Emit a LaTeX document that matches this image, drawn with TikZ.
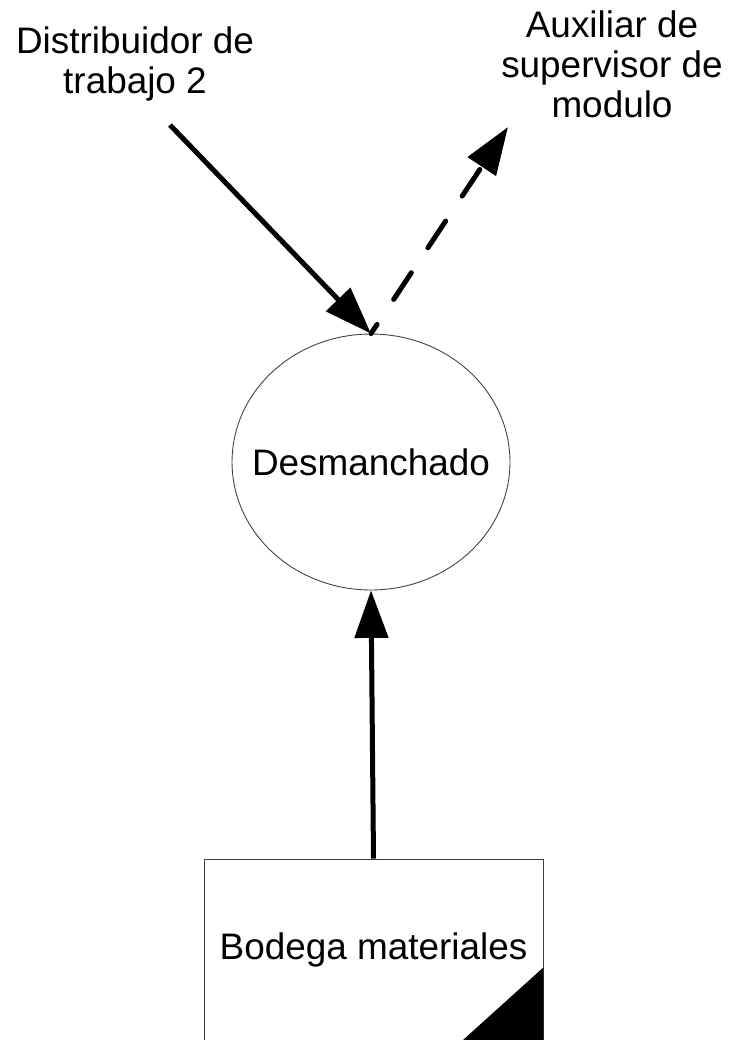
\documentclass[tikz,border=0pt]{standalone}
\usepackage{fontspec}
\setmainfont{Liberation Sans}
\usetikzlibrary{arrows.meta,shapes.geometric,calc}

\begin{document}
\begin{tikzpicture}[x=0.02cm, y=-0.02cm,
		bigtext/.style = {font=\fontsize{21}{22.7}\selectfont},
		actor/.style   = {bigtext, align=center, inner sep=0pt},
		proc/.style    = {ellipse, draw=black!75, line width=0.5pt, minimum width=5.56cm, minimum height=5.12cm, inner sep=0pt},
		store/.style   = {bigtext, rectangle, draw=black!75, line width=0.5pt, minimum width=6.78cm, minimum height=3.64cm, inner sep=0pt},
		flow/.style    = {line width=0.1cm, -{Triangle[length=0.95cm,width=0.66cm]}},
		dflow/.style   = {flow, line cap=round, dash pattern=on 0.64cm off 0.6cm, dash phase=0.42cm}]
	
	% page frame, the store box runs off the bottom edge
	\path[use as bounding box, clip] (0,0) rectangle (730,1040);
	
	% external entities
	\node[actor] (dist) at (135,64) {Distribuidor de\\trabajo 2};
	\node[actor] (aux) at (612,64) {Auxiliar de\\supervisor de\\modulo};
	
	% process (text as a centre label so the ellipse keeps its size) and data store
	\node[proc, label={[bigtext]center:Desmanchado}] (desm) at (371,462) {};
	\node[store] (bodega) at (373.5,950) {Bodega materiales};
	\fill (bodega.south east) -- ++(-82,0) -- ++(82,-74) -- cycle;
	
	% free ends of the flows
	\coordinate (distout) at (170,125);
	\coordinate (auxin) at (508,127);
	
	% flows
	\draw[flow] (distout) -- (desm.north);
	\draw[dflow] (desm.north) -- (auxin);
	\draw[flow] (bodega.north) -- (desm.south);
	
\end{tikzpicture}
\end{document}
